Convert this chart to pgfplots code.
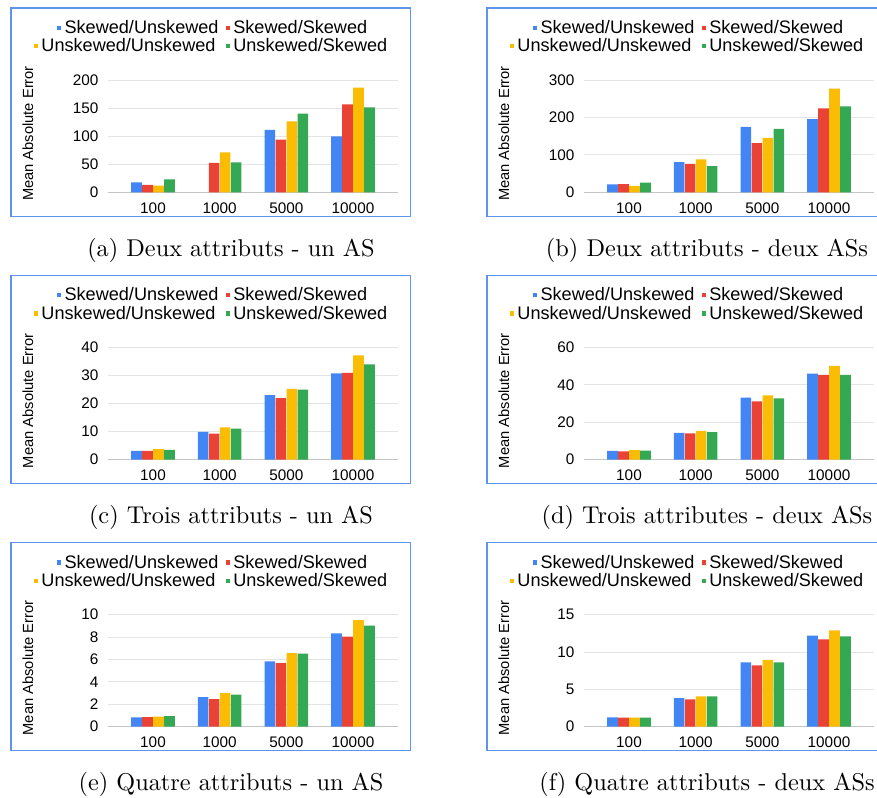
\documentclass[border=0pt]{standalone}
\usepackage{fontspec}
\usepackage{pgfplots}
\usepackage{pgfplotstable}
\pgfplotsset{compat=1.18}

\newfontfamily\sheetfont{Liberation Sans}
% drawing unit
\newdimen\px \px=0.4115pt

\definecolor{cBlue}{HTML}{4285F4}
\definecolor{cRed}{HTML}{EA4335}
\definecolor{cYellow}{HTML}{FBBC04}
\definecolor{cGreen}{HTML}{34A853}
\definecolor{frameBlue}{HTML}{5E93EE}
\definecolor{gridGray}{HTML}{E4E4E4}
\definecolor{baseGray}{HTML}{C4C4C4}

\newcommand{\legfont}{\sheetfont\fontsize{7.45}{8.9}\selectfont}
\newcommand{\tickfont}{\sheetfont\fontsize{6.3}{7.5}\selectfont}
\newcommand{\labfont}{\sheetfont\fontsize{6.05}{7.2}\selectfont}
\newcommand{\mk}[1]{\textcolor{#1}{\rule[3.5\px]{4.3\px}{4.3\px}}\hspace{3.5\px}}

% columns: su = Skewed/Unskewed, ss = Skewed/Skewed,
%          uu = Unskewed/Unskewed, us = Unskewed/Skewed
\pgfplotstableread{
x su ss uu us
0 17.9 13.1 11.9 23.2
1 nan 52.4 71.4 53.6
2 111.3 94.0 126.8 140.5
3 100.0 157.1 186.9 151.8
}\dataA
\pgfplotstableread{
x su ss uu us
0 21.4 22 17 26
1 81 76 88 70
2 175 132 146 170
3 196 225 278 230
}\dataB
\pgfplotstableread{
x su ss uu us
0 3.1 3.1 3.7 3.4
1 9.9 9.2 11.5 11.0
2 23.0 21.9 25.2 25.0
3 30.8 30.9 37.2 34.0
}\dataC
\pgfplotstableread{
x su ss uu us
0 4.6 4.4 5.0 4.8
1 14.2 14.0 15.3 14.7
2 33.2 31.1 34.3 32.7
3 46.0 45.3 50.2 45.4
}\dataD
\pgfplotstableread{
x su ss uu us
0 0.83 0.86 0.89 0.95
1 2.65 2.47 3.00 2.86
2 5.83 5.68 6.58 6.52
3 8.33 8.04 9.52 9.02
}\dataE
\pgfplotstableread{
x su ss uu us
0 1.25 1.2 1.2 1.2
1 3.83 3.65 4.05 4.05
2 8.63 8.23 8.95 8.63
3 12.19 11.7 12.9 12.1
}\dataF

\pgfplotsset{
  panel/.style={
    scale only axis, width={290\px}, height={112\px},
    xmin=-0.675, xmax=3.675, ymin=0,
    xtick={0,1,2,3}, xticklabels={100,1000,5000,10000},
    axis x line*=bottom, axis y line*=left,
    x axis line style={draw=baseGray, line width=1.3\px, -},
    y axis line style={draw=none},
    major tick length=0pt,
    ymajorgrids, grid style={draw=gridGray, line width=1\px},
    ybar=0.4\px, bar width=10.6\px,
    /pgf/number format/assume math mode=true,
    tick label style={font=\tickfont},
    xticklabel style={inner sep=0pt, anchor=north, yshift=-10\px},
    yticklabel style={inner sep=0pt, anchor=east, xshift=-9\px},
    ylabel={Mean Absolute Error},
    ylabel style={font=\labfont, at={(axis description cs:-0.276,0.525)}, anchor=center},
    legend columns=2,
    legend cell align=left,
    legend image code/.code={},
    legend style={at={(0.3534,1.372)}, anchor=center, draw=none, fill=none,
      inner sep=0pt, outer sep=0pt, font=\legfont, row sep=0pt, column sep=0pt,
      /tikz/every even column/.append style={column sep=7\px},
      nodes={inner sep=0pt, text height=13.3\px, text depth=5\px}},
  },
}

% one framed chart with its caption; #1, #2 = horizontal and vertical offsets
\newcommand{\panel}[6]{%
  \draw[frameBlue, line width=1.3\px] ({(11+#1)*\px},{-(8+#2)*\px}) rectangle ({(410.3+#1)*\px},{-(216.3+#2)*\px});
  \begin{axis}[panel, at={({(108+#1)*\px},{-(192.3+#2)*\px})}, anchor=south west, ymax=#4, ytick={#5}]
    \addplot[fill=cBlue, draw=none] table[x=x, y=su] {#3};
    \addlegendentry{\hphantom{Un}\mk{cBlue}Skewed/Unskewed}
    \addplot[fill=cRed, draw=none] table[x=x, y=ss] {#3};
    \addlegendentry{\mk{cRed}Skewed/Skewed}
    \addplot[fill=cYellow, draw=none] table[x=x, y=uu] {#3};
    \addlegendentry{\mk{cYellow}Unskewed/Unskewed}
    \addplot[fill=cGreen, draw=none] table[x=x, y=us] {#3};
    \addlegendentry{\mk{cGreen}Unskewed/Skewed}
  \end{axis}
  \node[font=\fontsize{10}{12}\selectfont, anchor=base, inner sep=0pt] at ({(231+#1)*\px},{-(256+#2)*\px}) {#6};
}

\begin{document}
\begin{tikzpicture}
  \path[use as bounding box, clip] (0,0) rectangle ({877*\px},{-798*\px});
  \panel{0}{0}{\dataA}{200}{0,50,100,150,200}{(a) Deux attributs - un AS}
  \panel{476}{0}{\dataB}{300}{0,100,200,300}{(b) Deux attributs - deux ASs}
  \panel{0}{267.2}{\dataC}{40}{0,10,20,30,40}{(c) Trois attributs - un AS}
  \panel{476}{267.2}{\dataD}{60}{0,20,40,60}{(d) Trois attributes - deux ASs}
  \panel{0}{534.4}{\dataE}{10}{0,2,4,6,8,10}{(e) Quatre attributs - un AS}
  \panel{476}{534.4}{\dataF}{15}{0,5,10,15}{(f) Quatre attributs - deux ASs}
\end{tikzpicture}
\end{document}
